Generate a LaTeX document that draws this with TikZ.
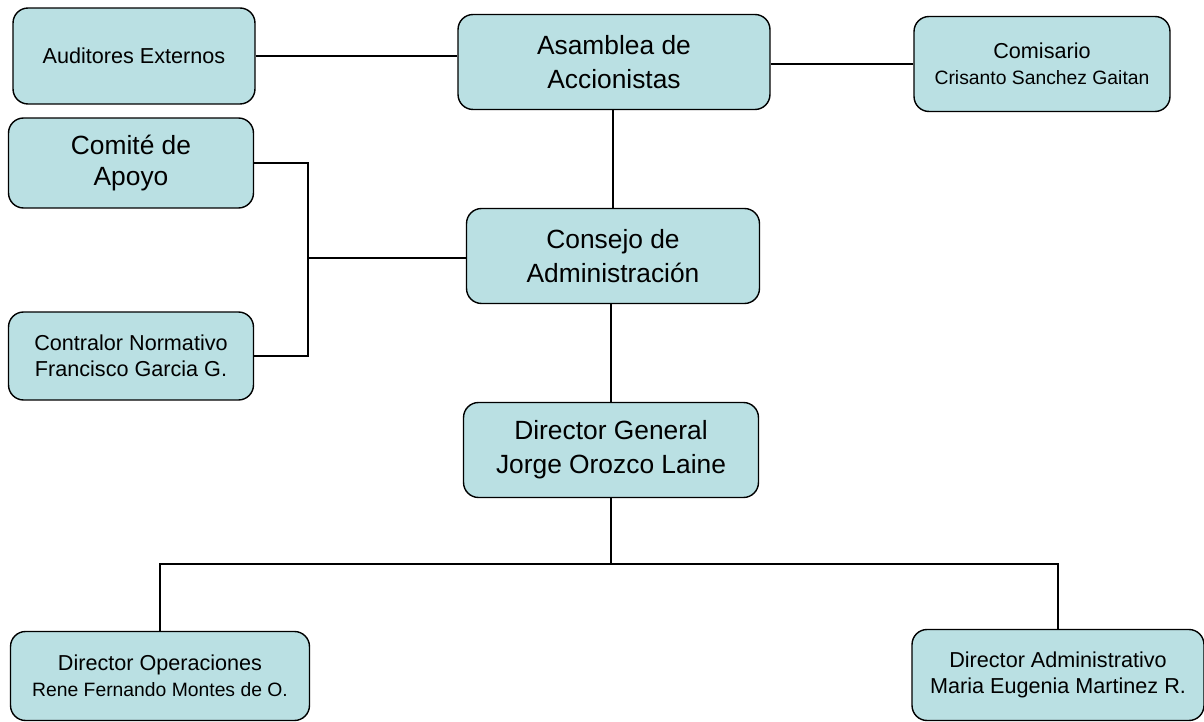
\documentclass[tikz,border=0pt]{standalone}
\usepackage{fontspec}
\setmainfont{Liberation Sans}
\definecolor{cajaazul}{RGB}{186,224,227}
\newcommand{\nombrechico}[1]{{\fontsize{11}{14.5}\selectfont #1}}
\begin{document}
\begin{tikzpicture}[x=0.02cm, y=-0.02cm,
        caja/.style={draw, rectangle, rounded corners=0.3cm, fill=cajaazul, line width=0.8pt, align=center, inner sep=2pt},
        grande/.style={font=\fontsize{15}{19.3}\selectfont},
        mediana/.style={font=\fontsize{15}{17.6}\selectfont},
        chica/.style={font=\fontsize{12.3}{15}\selectfont},
        linea/.style={line width=0.8pt},
        lineagruesa/.style={line width=1.4pt}]
        \useasboundingbox (0,0) rectangle (1204,722);

        % Asamblea y sus lados
        \node[caja, grande, minimum width=6.24cm, minimum height=1.9cm] (asamblea) at (614,62) {Asamblea de\\Accionistas};
        \node[caja, chica, minimum width=4.84cm, minimum height=1.92cm] (auditores) at (134,56) {Auditores Externos};
        \node[caja, chica, minimum width=5.12cm, minimum height=1.9cm] (comisario) at (1042,64) {Comisario\\\nombrechico{Crisanto Sanchez Gaitan}};

        % Consejo
        \node[caja, grande, minimum width=5.86cm, minimum height=1.9cm] (consejo) at (613,256) {Consejo de\\Administración};
        \node[caja, mediana, minimum width=4.9cm, minimum height=1.8cm] (comite) at (131,163) {Comité de\\Apoyo};
        \node[caja, chica, minimum width=4.9cm, minimum height=1.76cm] (contralor) at (131,356) {Contralor Normativo\\Francisco Garcia G.};

        % Direccion
        \node[caja, grande, minimum width=5.9cm, minimum height=1.9cm] (dirgeneral) at (611,450) {Director General\\Jorge Orozco Laine};
        \node[caja, chica, minimum width=5.98cm, minimum height=1.78cm] (operaciones) at (160,676) {Director Operaciones\\\nombrechico{Rene Fernando Montes de O.}};
        \node[caja, chica, minimum width=5.84cm, minimum height=1.82cm] (administrativo) at (1058,675) {Director Administrativo\\Maria Eugenia Martinez R.};

        % Lineas
        \draw[linea] (auditores.east) -- (auditores.east -| asamblea.west);
        \draw[lineagruesa] (comisario.west) -- (comisario.west -| asamblea.east);
        \draw[lineagruesa] (consejo.north) -- (consejo.north |- asamblea.south);

        \coordinate (union) at (308,258);
        \draw[linea] (comite.east) -| (union) |- (contralor.east);
        \draw[linea] (union) -- (union -| consejo.west);

        \draw[linea] (dirgeneral.north) -- (dirgeneral.north |- consejo.south);
        \coordinate (bifurca) at (611,564);
        \draw[linea] (dirgeneral.south) -- (bifurca);
        \draw[linea] (operaciones.north) |- (bifurca) -| (administrativo.north);
    \end{tikzpicture}
\end{document}
